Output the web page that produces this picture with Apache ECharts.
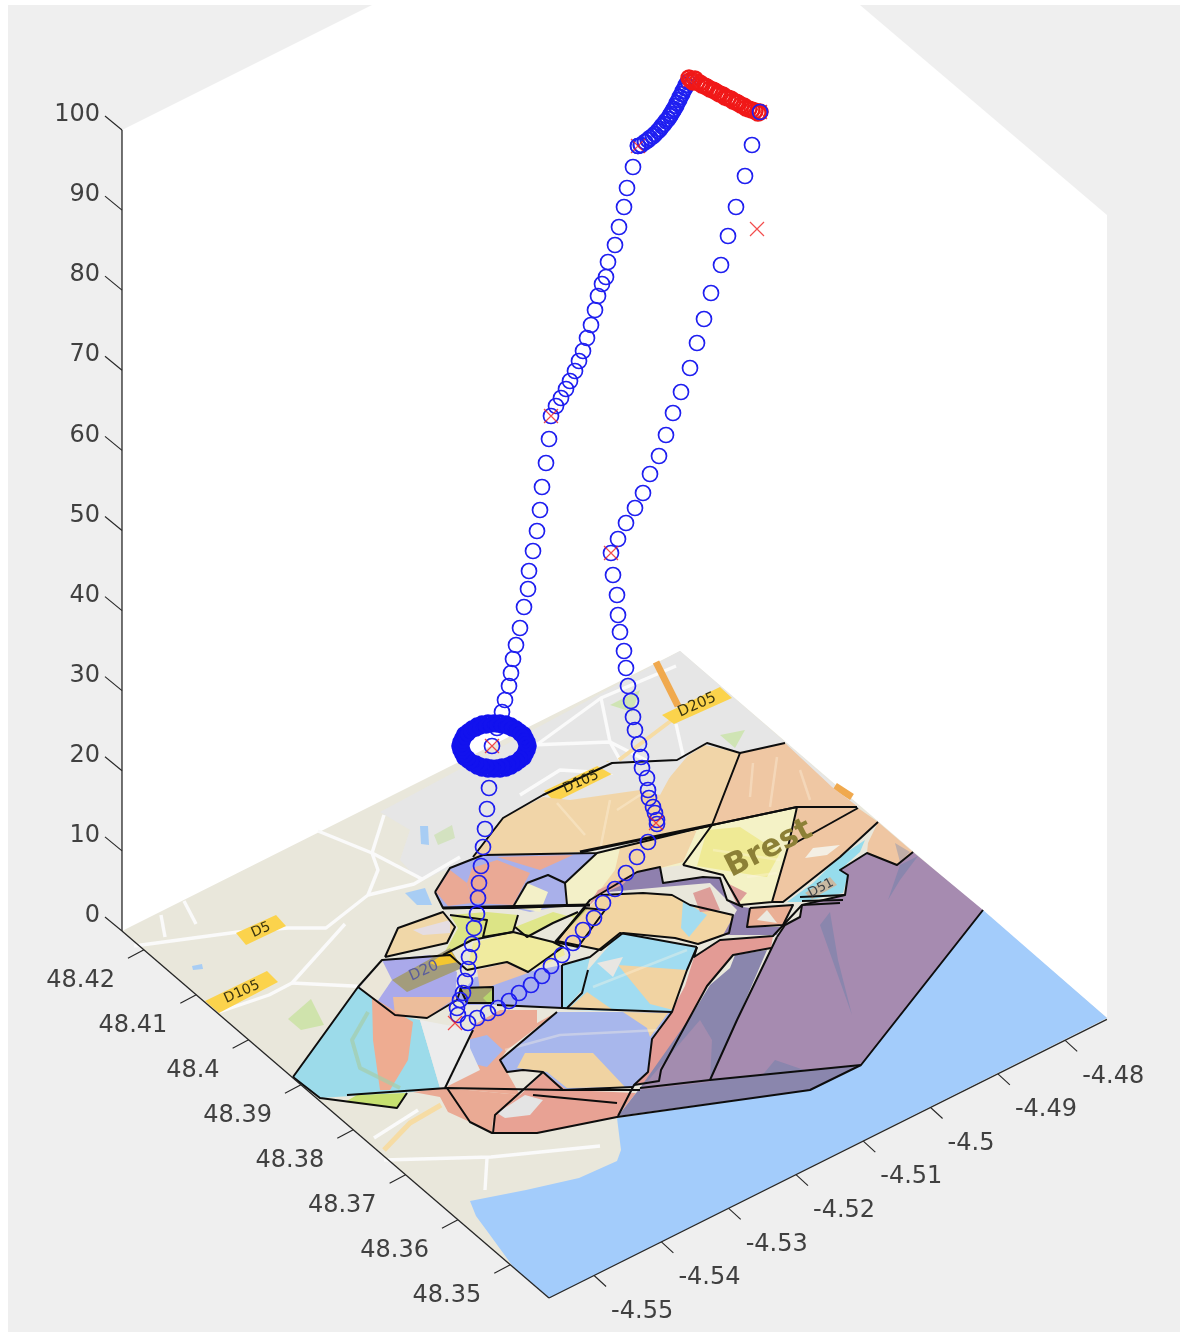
<!DOCTYPE html>
<html><head><meta charset="utf-8">
<script src="https://cdn.jsdelivr.net/npm/echarts@6/dist/echarts.min.js"></script>
<style>html,body{margin:0;padding:0;background:#fff;overflow:hidden}#c{width:1186px;height:1335px;filter:blur(0.5px)}</style>
</head><body><div id="c"></div>
<script>
/* tick labels */
const zTicks=[0,10,20,30,40,50,60,70,80,90,100];
const latTicks=[48.42,48.41,48.4,48.39,48.38,48.37,48.36,48.35];
const lonTicks=[-4.48,-4.49,-4.5,-4.51,-4.52,-4.53,-4.54,-4.55];
/* flight track, read in the picture plane */
const trackUp=[[458,1015],[457,1008],[460,1000],[463,993],[465,981],[468,969],[469,957],[472,944],[474,928],[477,914],[478,898],[479,883],[481,866],[483,847],[485,829],[487,809],[489,788],[492,746],[497,728],[502,712],[505,700],[509,686],[511,673],[513,659],[516,645],[520,628],[524,607],[528,589],[529,571],[533,551],[537,531],[540,510],[542,487],[546,463],[549,439],[551,416],[556,406],[561,398],[566,389],[570,381],[575,371],[579,361],[583,351],[587,338],[591,325],[595,310],[598,296],[602,284],[606,277],[608,262],[615,245],[619,227],[624,207],[627,188],[633,167],[638,146]];
const trackTop=[[641,145],[645,142],[648,140],[650,138],[653,136],[655,134],[658,131],[660,129],[662,126],[664,124],[666,121],[668,119],[670,116],[671,114],[673,111],[674,109],[676,106],[677,103],[679,100],[680,97],[682,94],[683,91],[685,88],[686,85],[688,82]];
const ringLapA=[[529,746],[528,750],[526,754],[524,758],[520,761],[516,764],[511,767],[506,769],[500,770],[494,770],[488,770],[482,769],[477,767],[472,764],[468,761],[464,758],[462,754],[460,750],[459,746],[460,742],[462,738],[464,734],[468,731],[472,728],[477,725],[482,723],[488,722],[494,722],[500,722],[506,723],[511,725],[516,728],[520,731],[524,734],[526,738],[528,742]];
const ringLapB=[[526,748],[525,751],[523,755],[520,758],[517,761],[512,763],[508,765],[502,766],[497,767],[491,767],[486,766],[480,765],[476,763],[471,761],[468,758],[465,755],[463,751],[462,748],[462,744],[463,741],[465,737],[468,734],[471,731],[476,729],[480,727],[486,726],[491,725],[497,725],[502,726],[508,727],[512,729],[517,731],[520,734],[523,737],[525,741],[526,744]];
const trackDown=[[760,112],[752,145],[745,176],[736,207],[728,236],[721,265],[711,293],[704,319],[697,343],[690,368],[681,392],[673,413],[666,435],[659,456],[650,474],[643,493],[635,508],[626,523],[618,539],[611,553],[613,575],[617,595],[618,615],[620,632],[624,651],[626,668],[628,686],[631,701],[633,717],[635,730],[639,744],[641,757],[642,768],[647,778],[648,790],[649,798],[653,807],[655,813],[657,820],[657,824],[648,842],[637,857],[626,873],[615,889],[603,903],[594,918],[583,930],[573,943],[562,955],[551,966],[542,976],[531,985],[519,993],[509,1001],[498,1008],[488,1013],[477,1018],[468,1023]];
const trackRed=[[689,78],[691,80],[693,82],[695,79],[697,82],[700,83],[702,85],[705,86],[707,87],[710,89],[713,90],[715,91],[718,93],[720,94],[723,95],[725,97],[728,98],[731,99],[733,101],[736,102],[738,103],[741,105],[744,106],[746,108],[749,109],[752,110],[755,111],[758,113],[760,112]];
const trackEnds=[[638,146],[760,112]];
const crosses=[[757,229],[638,146],[551,416],[492,746],[611,553],[656,823],[455,1023],[760,112],[690,80]];
/* map sheet */
const figure=[[8,5],[1180,5],[1180,1332],[8,1332]];
const backWalls=[[122,130],[372,5],[860,5],[1107,215],[1107,1018],[549,1298],[122,931]];
const sheet=[[122,931],[680,651],[1107,1018],[549,1298]];
const grayLand=[[380,812],[680,651],[860,807],[700,830],[480,860],[440,872],[420,882],[400,860],[410,830]];
const seaArea=[[1107,1018],[983,910],[860,1064],[810,1090],[617,1118],[621,1150],[617,1161],[579,1178],[526,1190],[470,1201],[476,1216],[490,1235],[514,1268],[549,1298]];
/* quarters (fills) */
const qPurple=[[913,852],[898,865],[867,853],[840,870],[848,875],[845,895],[802,905],[800,917],[785,925],[777,937],[737,1020],[710,1080],[861,1065],[983,910]];
const qPurpleShadeA=[[820,925],[830,912],[838,960],[852,1015]];
const qPurpleShadeB=[[888,900],[900,865],[918,856],[900,880]];
const qPurpleShadeC=[[760,1078],[775,1060],[810,1072]];
const qSlate=[[618,1116],[640,1088],[693,1013],[710,985],[730,968],[735,955],[767,950],[737,1020],[710,1080],[861,1065],[810,1090]];
const qSlateLight=[[640,1090],[700,1020],[712,1040],[710,1082]];
const qSalmonBand=[[773,936],[720,940],[694,957],[685,986],[670,1014],[652,1039],[648,1072],[634,1085],[659,1081],[661,1070],[707,986],[733,955],[771,948]];
const qBottomLeft=[[413,1092],[440,1097],[448,1112],[470,1122],[492,1133],[493,1118],[520,1095],[447,1088]];
const qBottomMid=[[493,1133],[537,1133],[617,1117],[636,1093],[567,1090],[543,1073],[520,1095],[493,1118]];
const qBottomGrey=[[497,1113],[525,1095],[543,1100],[530,1115],[505,1118]];
const qLowerBlue=[[507,1072],[500,1060],[557,1012],[672,1012],[652,1039],[648,1072],[634,1087],[563,1090],[543,1072],[523,1070]];
const qLowerSand=[[517,1068],[525,1053],[593,1053],[625,1087],[567,1088],[547,1072]];
const qLowerSandB=[[623,1012],[668,1013],[650,1037],[647,1028]];
const qLeftCyan=[[293,1077],[358,987],[395,1015],[420,1020],[440,1088],[413,1092],[320,1098]];
const qLeftWedge=[[372,997],[413,1022],[408,1060],[390,1090],[380,1090],[373,1040]];
const qLeftWhite=[[420,1020],[473,1030],[445,1088],[440,1088]];
const qLeftGreen=[[345,1102],[357,1095],[407,1093],[397,1108]];
const qTopPeach=[[473,857],[503,818],[543,797],[570,800],[640,790],[660,795],[678,762],[705,745],[740,753],[712,825],[580,852]];
const qTopPeachGrey=[[590,762],[677,760],[690,753],[655,795],[640,790]];
const qTopRight=[[740,753],[785,743],[832,787],[857,806],[797,806],[712,825]];
const qBlockA=[[483,855],[597,853],[565,885],[566,905],[530,912],[513,908],[443,908],[435,892],[450,868]];
const qBlockASalmon=[[472,868],[497,860],[530,873],[513,905],[472,903],[467,883]];
const qBlockASalmonL=[[436,892],[450,870],[467,883],[472,903],[448,906]];
const qBlockASalmonT=[[497,857],[573,855],[540,870]];
const qBlockAPale=[[527,883],[513,907],[540,912],[548,892]];
const qMidPale=[[598,853],[712,825],[697,830],[683,865],[660,868],[600,890],[590,905],[566,905],[565,883]];
const qMidPeach=[[600,890],[660,868],[683,862],[697,830],[620,848],[615,870]];
const qBlockB=[[398,928],[443,912],[455,927],[447,943],[385,957]];
const qBlockBLilac=[[413,930],[450,920],[450,933],[423,935]];
const qGreenA=[[450,915],[487,920],[483,937],[513,932],[518,915],[487,912]];
const qGreenB=[[450,915],[458,928],[443,955],[457,947],[472,940],[490,937],[487,920]];
const qYellow=[[473,943],[513,932],[553,942],[578,925],[578,912],[560,942],[563,947],[565,955],[528,972],[507,962],[480,968],[467,970]];
const qGreenC=[[515,927],[527,937],[553,923],[578,912],[557,940],[562,944],[575,918],[553,912]];
const qOlive=[[555,942],[585,908],[605,910],[578,947]];
const qBlockC=[[360,987],[382,960],[430,955],[457,972],[455,1000],[427,1018],[395,1015]];
const qBlockCPale=[[360,987],[382,960],[392,980],[377,1002]];
const qBlockCPeach=[[393,997],[457,997],[427,1018],[395,1015]];
const qLabelGrey=[[392,980],[450,948],[462,968],[407,992]];
const qLabelYellow=[[430,963],[450,950],[458,962],[437,966]];
const qDarkBox=[[460,988],[493,987],[493,1003],[467,1003]];
const qDarkTip=[[483,998],[492,990],[493,1003],[488,1003]];
const qCentreBlue=[[455,1000],[475,977],[527,972],[562,965],[562,1008],[497,1005],[467,1005]];
const qCentrePeach=[[477,970],[507,963],[528,973],[480,990]];
const qSalmonLow=[[477,1023],[500,1010],[537,1010],[537,1023],[557,1012],[507,1050],[500,1060],[507,1072],[520,1095],[447,1088],[473,1030]];
const qSalmonBlue=[[467,1040],[487,1035],[503,1050],[487,1067],[470,1063]];
const qSalmonGrey=[[470,1032],[446,1087],[480,1070],[470,1048]];
const qCyanSmall=[[562,965],[590,957],[587,970],[582,990],[567,1007],[562,1008]];
const qBlockF=[[588,970],[620,933],[697,947],[687,970],[672,1012],[567,1010],[582,993]];
const qBlockFPeach=[[618,965],[687,970],[673,1010],[650,1004]];
const qBlockFPeachB=[[567,1010],[587,992],[613,1010]];
const qBlockFGrey=[[597,963],[623,957],[613,977]];
const qBlockG=[[601,895],[643,893],[672,895],[690,905],[733,915],[729,933],[698,944],[675,938],[623,933],[601,950],[557,941]];
const qBlockGCyan=[[683,901],[707,915],[689,937],[681,928]];
const qBrestBlock=[[712,825],[797,807],[788,847],[772,902],[740,905],[723,875],[683,865],[697,830]];
const qBrestYellow=[[697,866],[707,830],[740,827],[780,853],[767,877],[740,873]];
const qPeachNE=[[798,807],[857,807],[820,833],[788,847]];
const qPeachE=[[788,847],[858,808],[878,822],[840,857],[783,902],[772,902]];
const qPeachEWhite=[[813,848],[840,845],[827,855],[805,858]];
const qCyanE=[[865,840],[860,852],[840,870],[848,875],[843,893],[800,902],[787,902],[813,883],[838,858]];
const qTagD51=[[805,893],[830,877],[837,885],[812,899]];
const qEastTip=[[868,843],[878,822],[913,852],[897,865],[867,853]];
const qEastGrey=[[895,843],[910,852],[900,862]];
const qBandPurple=[[637,872],[660,867],[663,883],[703,877],[720,878],[727,900],[743,907],[750,908],[747,927],[780,927],[777,935],[723,935],[737,910],[710,883],[663,887],[597,893],[590,900]];
const qBandSalmonA=[[693,893],[710,887],[720,910],[700,912]];
const qBandSalmonB=[[727,883],[747,893],[737,905]];
const qBandSalmonC=[[587,908],[598,890],[637,872],[622,885],[600,895]];
const qSmallBlock=[[750,908],[793,905],[783,925],[747,927]];
const qSmallWhite=[[757,920],[767,910],[777,923]];
/* roads and water */
const roadA=[[134,946],[238,932],[288,928],[326,928],[368,895],[414,884],[460,857]];
const roadB=[[318,831],[372,853],[378,870],[368,895]];
const roadC=[[372,853],[384,815]];
const roadD=[[372,853],[422,879]];
const roadE=[[219,1012],[269,995],[292,983],[345,924]];
const roadF=[[292,983],[353,986],[400,990]];
const roadG=[[384,1160],[491,1157],[600,1146]];
const roadH=[[487,1158],[485,1190]];
const roadI=[[374,1138],[418,1110]];
const roadJ=[[535,746],[601,698],[676,666]];
const roadK=[[530,745],[610,742],[689,782]];
const roadL=[[601,698],[610,742],[620,760]];
const roadM=[[676,724],[689,782]];
const roadN=[[520,795],[560,770],[640,775]];
const roadO=[[161,915],[165,937]];
const roadP=[[184,901],[196,924]];
const sandRoad=[[384,1150],[410,1123],[441,1105]];
const sandRoadB=[[619,760],[672,720]];
const motorway=[[656,662],[678,706]];
const motorwayB=[[835,786],[852,797]];
const parkA=[[288,1019],[311,999],[324,1025],[301,1030]];
const parkB=[[434,835],[452,825],[455,838],[438,845]];
const parkC=[[610,705],[640,690],[632,712]];
const parkD=[[720,735],[745,730],[735,748]];
const pondA=[[420,826],[428,826],[429,845],[421,844]];
const pondB=[[405,893],[425,888],[432,905],[417,905]];
const pondC=[[192,966],[202,964],[203,969],[193,970]];
/* streets that show through the tinted quarters */
const veilA=[[557,803],[585,835]];
const veilB=[[617,810],[640,795]];
const veilC=[[610,800],[600,850]];
const veilD=[[753,763],[750,797]];
const veilE=[[777,757],[770,807]];
const veilF=[[800,770],[810,800]];
const veilG=[[713,850],[780,860]];
const veilH=[[747,877],[777,873]];
const veilI=[[593,987],[687,950]];
const veilJ=[[505,1050],[560,1035],[660,1030]];
const bayCurve=[[368,1012],[352,1040],[360,1068],[400,1088]];
/* road tags */
const tagD5=[[236,933],[276,915],[286,926],[246,945]];
const tagD105=[[205,1001],[267,971],[278,982],[219,1013]];
const tagD205=[[662,715],[720,687],[732,698],[674,724]];
const tagD105b=[[544,791],[608,761],[618,771],[555,802]];
const mapTexts=[["D5",261,930,24,14,"#3b3510","normal"],["D105",242,992,24,14,"#3b3510","normal"],["D205",697,705,24,15,"#3b3510","normal"],["D105",581,782,24,14,"#2d2a10","normal"],["D20",424,971,24,15,"#5a5c9c","normal"],["D51",821,888,28,13,"#3f4247","normal"],["Brest",769,849,27,31,"#8c8036","bold"]];
/* quarter boundaries */
const edgeA=[[435,892],[450,868],[483,855],[597,853],[712,825],[797,807],[857,807]];
const edgeB=[[473,857],[503,818],[543,795],[612,763],[677,760],[707,743],[740,753],[785,743]];
const edgeC=[[740,753],[712,825],[683,865]];
const edgeD=[[435,892],[443,908],[513,908],[590,905]];
const edgeE=[[527,883],[513,907]];
const edgeF=[[597,853],[565,883],[567,905]];
const edgeG=[[527,883],[548,875],[565,883]];
const edgeH=[[385,957],[398,928],[443,912],[455,927],[447,943],[385,957]];
const edgeI=[[450,915],[487,920],[483,937],[513,932],[518,915]];
const edgeJ=[[443,955],[472,940],[513,932],[553,942],[563,947],[528,972],[507,962],[467,970]];
const edgeK=[[515,927],[527,937],[553,923],[578,912]];
const edgeL=[[555,942],[585,908],[605,910],[578,947],[555,942]];
const edgeM=[[293,1077],[358,987],[395,1015],[427,1018],[457,1000],[462,985]];
const edgeN=[[358,987],[382,960],[450,955],[467,970]];
const edgeO=[[460,988],[493,987],[493,1003],[467,1003],[460,988]];
const edgeP=[[497,1005],[562,1008],[672,1012]];
const edgeQ=[[562,965],[562,1008]];
const edgeR=[[562,965],[590,957],[620,933],[697,947]];
const edgeS=[[588,970],[582,993],[567,1008]];
const edgeT=[[697,947],[687,970],[672,1012],[652,1039],[648,1072],[634,1085],[618,1116]];
const edgeU=[[445,1088],[473,1030]];
const edgeV=[[557,1012],[500,1060],[507,1072],[523,1070],[543,1072],[563,1090],[633,1087]];
const edgeW=[[347,1095],[447,1088],[563,1090],[640,1090]];
const edgeX=[[533,1095],[617,1103]];
const edgeY=[[293,1077],[320,1098],[397,1108],[407,1093]];
const edgeZ=[[447,1088],[470,1122],[492,1133],[537,1133],[617,1117],[810,1090],[861,1065]];
const edgeAA=[[493,1133],[495,1115],[543,1072]];
const edgeAB=[[640,1088],[710,1080],[861,1065],[983,910]];
const edgeAC=[[710,1080],[737,1020],[777,937]];
const edgeAD=[[697,947],[694,957],[720,940],[773,936],[802,905]];
const edgeAE=[[634,1085],[659,1081],[661,1070],[707,986],[733,955],[771,948]];
const edgeAF=[[601,895],[643,893],[672,895],[690,905],[733,915],[729,933],[698,944],[675,938],[623,933],[601,950],[557,941],[590,900],[637,872],[660,867],[663,883],[703,877],[720,878],[727,900],[743,907]];
const edgeAG=[[712,825],[797,807],[788,847],[772,902],[740,905]];
const edgeAH=[[683,865],[723,875],[740,905]];
const edgeAI=[[788,847],[858,808]];
const edgeAJ=[[772,902],[783,902],[840,857],[878,822]];
const edgeAK=[[913,852],[897,865],[867,853],[840,870],[848,875],[845,895],[802,905],[800,917],[785,925],[777,937]];
const edgeAL=[[750,908],[793,905],[783,925],[747,927],[750,908]];
const edgeAM=[[800,897],[845,895]];
const edgeAN=[[802,901],[843,900]];
const edgeAO=[[802,905],[840,903]];
const thickA=[[443,908],[590,905]];
const thickB=[[580,852],[712,825]];

const fillList=[
[figure,"#efefef"],[backWalls,"#ffffff"],[sheet,"#e9e7db"],[grayLand,"#e6e6e6"],[parkA,"#cfe3ac"],[parkB,"#d3e2c0"],[parkC,"#cfe4b4"],[parkD,"#cfe4b4"],[pondA,"#a8cdf4"],[pondB,"#a8cdf4"],[pondC,"#a8cdf4"]];
const roadList=[roadA,roadB,roadC,roadD,roadE,roadF,roadG,roadH,roadI,roadJ,roadK,roadL,roadM,roadN,roadO,roadP];
const fillList2=[
[seaArea,"#a3ccfb"],[tagD5,"#fbd34c"],[tagD105,"#fbd34c"],[tagD205,"#fbd34c"],[tagD105b,"#fbd34c"],
[qTopPeach,"#f1d5a8"],[qTopPeachGrey,"#e6e6e6"],[qTopRight,"#efc7a3"],
[qBlockA,"#a9b0ea"],[qBlockASalmon,"#eaa995"],[qBlockASalmonL,"#eaa995"],[qBlockASalmonT,"#eaa995"],[qBlockAPale,"#f3f0c8"],
[qMidPale,"#f3f0c8"],[qMidPeach,"#f1d5a8"],
[qBlockB,"#f0d7a8"],[qBlockBLilac,"#e5dde2"],[qGreenB,"#dce486"],[qGreenA,"#dce486"],[qYellow,"#f0eb9f"],[qGreenC,"#dfe68a"],[qOlive,"#c6cb6c"],
[qBlockC,"#aaa9ea"],[qBlockCPale,"#ebe6d8"],[qBlockCPeach,"#ecbd9b"],[qLabelGrey,"#a39c7c"],[qLabelYellow,"#f4c730"],
[qCentreBlue,"#a9b1ec"],[qCentrePeach,"#eec4a0"],[qDarkBox,"#a8a572"],[qDarkTip,"#b9d66e"],
[qSalmonLow,"#ebab95"],[qSalmonBlue,"#a7b7ee"],[qSalmonGrey,"#e8e8e8"],[qCyanSmall,"#9fdcee"],
[qBlockF,"#a1dcf1"],[qBlockFPeach,"#f1d3a2"],[qBlockFPeachB,"#f1d3a2"],[qBlockFGrey,"#e8e6e2"],
[qBlockG,"#f2d5a3"],[qBlockGCyan,"#a3dcf0"],
[qBrestBlock,"#f4f2c6"],[qBrestYellow,"#efea95"],[qPeachNE,"#eec6a2"],[qPeachE,"#efc6a2"],[qPeachEWhite,"#f4efe4"],
[qEastTip,"#efc6a2"],[qEastGrey,"#c0aea8"],[qCyanE,"#96dcec"],[qTagD51,"#c9b9a2"],
[qLeftCyan,"#9cdbea"],[qLeftWedge,"#eeac91"],[qLeftWhite,"#ececec"],[qLeftGreen,"#c6e070"],
[qLowerBlue,"#a8b7ec"],[qLowerSand,"#f0d3a2"],[qLowerSandB,"#f0d3a2"],
[qBottomLeft,"#eaaa94"],[qBottomMid,"#e8a294"],[qBottomGrey,"#e4e4e4"],
[qSalmonBand,"#e39b95"],[qSlate,"#8a86ad"],[qSlateLight,"#a38caf"],[qPurple,"#a68bb0"],[qPurpleShadeA,"#8a86ad"],[qPurpleShadeB,"#8a86ad"],[qPurpleShadeC,"#8a86ad"],
[qBandPurple,"#8f80ae"],[qBandSalmonA,"#dd9e99"],[qBandSalmonB,"#dd9e99"],[qBandSalmonC,"#e2a19a"],[qSmallBlock,"#eaaf95"],[qSmallWhite,"#ebe9e0"]];
const veilList=[veilA,veilB,veilC,veilD,veilE,veilF,veilG,veilH,veilI,veilJ];
const edgeList=[edgeA,edgeB,edgeC,edgeD,edgeE,edgeF,edgeG,edgeH,edgeI,edgeJ,edgeK,edgeL,edgeM,edgeN,edgeO,edgeP,edgeQ,edgeR,edgeS,edgeT,edgeU,edgeV,edgeW,edgeX,edgeY,edgeZ,edgeAA,edgeAB,edgeAC,edgeAD,edgeAE,edgeAF,edgeAG,edgeAH,edgeAI,edgeAJ,edgeAK,edgeAL,edgeAM,edgeAN,edgeAO];

/* the view's oblique projection of the sheet onto the picture plane */
const lonMin=-4.5567, latMin=48.3426, latMax=48.4242;
function project(lon,lat,z){
  return [549+(lon-lonMin)*6730-(lat-latMin)*5233, 1298-(lon-lonMin)*3360-(lat-latMin)*4498-z*8.01];
}
const axisLines=[[project(lonMin,latMax,0),project(lonMin,latMax,100)],[project(lonMin,latMax,0),project(lonMin,latMin,0)],[project(lonMin,latMin,0),project(-4.4738,latMin,0)]];
const tickSegs=[],tickLabels=[];
zTicks.forEach(v=>{const p=project(lonMin,latMax,v);tickSegs.push([p,[p[0]-17,p[1]-14]]);tickLabels.push([String(v),100,p[1]-17,"right"]);});
latTicks.forEach(v=>{const p=project(lonMin,v,0);tickSegs.push([p,[p[0]-16,p[1]+8.5]]);tickLabels.push([String(v),p[0]-29,p[1]+29,"right"]);});
lonTicks.forEach(v=>{const p=project(v,latMin,0);tickSegs.push([p,[p[0]+12,p[1]+11]]);tickLabels.push([String(v),p[0]+17,p[1]+34,"left"]);});

function polySeries(list,z){
  return {type:"custom",coordinateSystem:"cartesian2d",silent:true,clip:false,z:z,animation:false,
    data:list.map((_,i)=>[i,0]),encode:{x:0,y:1},
    renderItem:(params,api)=>{const l=list[params.dataIndex];
      return {type:"polygon",shape:{points:l[0].map(p=>api.coord(p))},style:{fill:l[1],stroke:null}};}};
}
function pathSeries(list,color,width,z){
  return {type:"custom",coordinateSystem:"cartesian2d",silent:true,clip:false,z:z,animation:false,
    data:list.map((_,i)=>[i,0]),encode:{x:0,y:1},
    renderItem:(params,api)=>{const l=list[params.dataIndex];
      return {type:"polyline",shape:{points:l.map(p=>api.coord(p))},style:{fill:null,stroke:color,lineWidth:width,lineJoin:"round"}};}};
}
function textSeries(list,z,mapper){
  return {type:"custom",coordinateSystem:"cartesian2d",silent:true,clip:false,z:z,animation:false,
    data:list.map((_,i)=>[i,0]),encode:{x:0,y:1},
    renderItem:(params,api)=>mapper(list[params.dataIndex],api)};
}
function markers(data,c,z,size,bw){return {type:"scatter",data:data,symbol:"circle",symbolSize:size||15,itemStyle:{color:"rgba(0,0,0,0)",borderColor:c,borderWidth:bw||1.7,opacity:1},silent:true,z:z,animation:false,clip:false};}

const chart=echarts.init(document.getElementById("c"),null,{renderer:"canvas"});
chart.setOption({
  animation:false,backgroundColor:"#ffffff",
  grid:{left:0,top:0,width:1186,height:1335,containLabel:false},
  xAxis:{type:"value",min:0,max:1186,show:false},
  yAxis:{type:"value",min:0,max:1335,inverse:true,show:false},
  tooltip:{show:false},legend:{show:false},
  series:[
    polySeries(fillList,1),
    pathSeries(roadList,"#fafafa",3.4,2),
    pathSeries([sandRoad],"#f6dca4",5,3),
    pathSeries([sandRoadB],"#f6dca4",4,3),
    pathSeries([motorway,motorwayB],"#f0a94e",7,3),
    polySeries(fillList2,4),
    pathSeries(veilList,"rgba(255,245,225,0.35)",2.5,4.5),
    pathSeries([bayCurve],"rgba(165,205,170,0.7)",4,4.5),
    pathSeries(edgeList,"#0d0d0d",2,5),
    pathSeries([thickA,thickB],"#0d0d0d",3.2,5),
    pathSeries(axisLines,"#262626",1.3,6),
    pathSeries(tickSegs,"#262626",1.1,6),
    textSeries(tickLabels,7,(l,api)=>{const p=api.coord([l[1],l[2]+2]);return {type:"text",style:{text:l[0],x:p[0],y:p[1],fill:"#404040",font:'24px "DejaVu Sans"',textAlign:l[3],textVerticalAlign:"middle"}};}),
    textSeries(mapTexts,7,(l,api)=>{const p=api.coord([l[1],l[2]]);return {type:"text",x:p[0],y:p[1],rotation:l[3]*Math.PI/180,style:{text:l[0],x:0,y:0,fill:l[5],font:l[6]+" "+l[4]+'px "DejaVu Sans"',textAlign:"center",textVerticalAlign:"middle"}};}),
    markers(trackUp,"#1f1ff0",8),
    markers(trackTop,"#1f1ff0",8,15,2.2),
    markers(ringLapA,"#1212ee",8,12,3.6),
    markers(ringLapB,"#1212ee",8,12,3.6),
    markers(trackDown,"#1f1ff0",8),
    markers(trackRed,"#f01818",9,15,2.4),
    {type:"scatter",data:crosses,symbol:"path://M0 0L10 10M10 0L0 10",symbolSize:14,itemStyle:{color:"rgba(0,0,0,0)",borderColor:"#f02020",borderWidth:1.2},silent:true,z:10,animation:false,clip:false},
    markers(trackEnds,"#1f1ff0",11)
  ]
});
</script></body></html>
